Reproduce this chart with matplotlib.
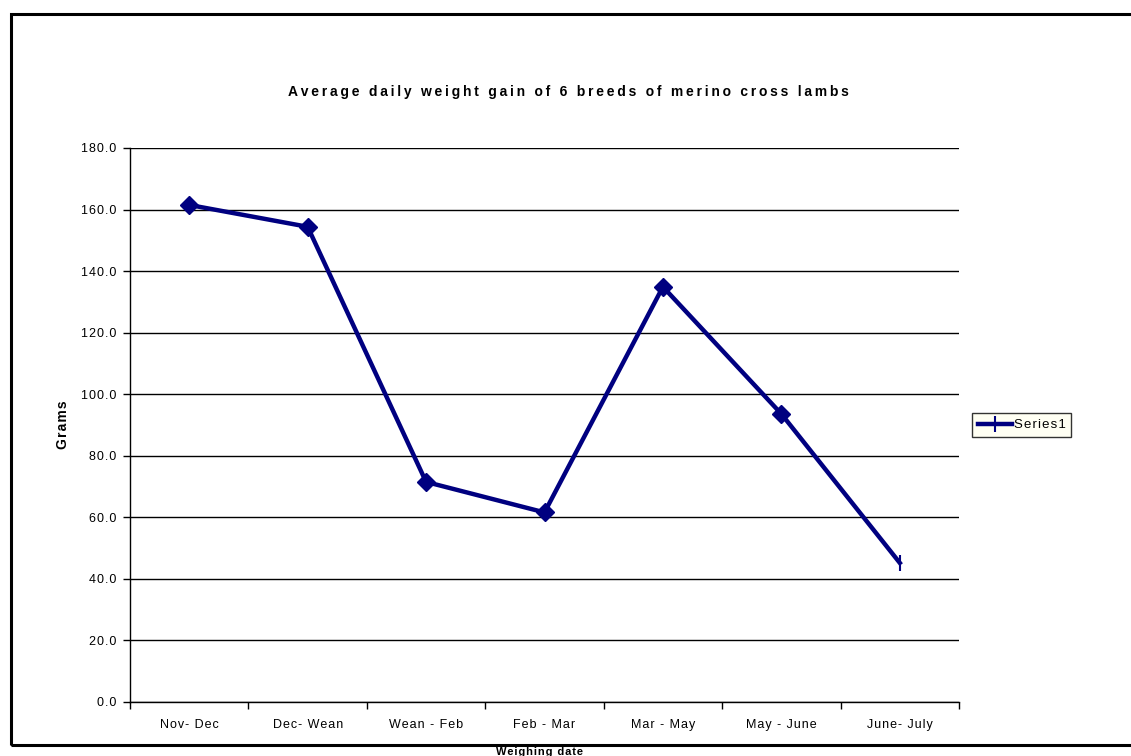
import numpy as np
import matplotlib
matplotlib.use("Agg")
import matplotlib.pyplot as plt
from matplotlib.lines import Line2D
from matplotlib.patches import Rectangle

plt.rcParams['font.family'] = ['Liberation Sans', 'DejaVu Sans']

# --- Data ---
periods = ["Nov- Dec", "Dec- Wean", "Wean - Feb", "Feb - Mar",
           "Mar - May", "May - June", "June- July"]
gain = [161.5, 154.4, 71.5, 61.6, 134.9, 93.6, 45.2]
yticks = np.arange(0, 181, 20)
title = "Average daily weight gain of 6 breeds of merino cross lambs"


def spaced(s, sp="\u200a"):
    # the original chart uses wide letter spacing
    return sp.join(s)


W, H = 1131, 756
fig = plt.figure(figsize=(W / 100, H / 100), dpi=100)

# outer chart frame (runs off the right edge like the original)
fig.patches.append(Rectangle((11 / W, 1 - 745 / H), 1.2, (745 - 14) / H,
                             transform=fig.transFigure, fill=False,
                             edgecolor="black", linewidth=2.2, zorder=0))

ax = fig.add_axes([130 / W, 1 - 702 / H, (959 - 130) / W, (702 - 148) / H])
x = np.arange(len(periods))
navy = "#000080"
ax.plot(x, gain, color=navy, linewidth=3.2, marker="D", markersize=9,
        markevery=list(range(len(gain) - 1)), zorder=3)
ax.plot(x[-1:], gain[-1:], color=navy, marker="|", markersize=11,
        markeredgewidth=1.5, linestyle="none", zorder=3)

ax.set_xlim(-0.5, len(periods) - 0.5)
ax.set_ylim(0, 180)
ax.set_yticks(yticks)
ax.set_yticklabels([spaced(f"{v:.1f}") for v in yticks], fontsize=9)
ax.set_xticks(x)
ax.set_xticklabels([spaced(p) for p in periods], fontsize=9)
ax.set_xticks(np.arange(-0.5, len(periods)), minor=True)
ax.tick_params(axis="x", which="major", length=0, pad=12)
ax.tick_params(axis="x", which="minor", length=5, direction="out", width=1)
ax.tick_params(axis="y", length=5, direction="out", width=1, pad=5)
ax.yaxis.grid(True, color="black", linewidth=1)
ax.set_axisbelow(True)
for s in ("top", "right"):
    ax.spines[s].set_visible(False)
for s in ("left", "bottom"):
    ax.spines[s].set_linewidth(1)

fig.text(63 / W, 1 - 425 / H, spaced("Grams"), fontsize=10,
         fontweight="bold", rotation=90, ha="center", va="center")
fig.text(540 / W, 1 - 755 / H, spaced("Weighing date"), fontsize=8,
         fontweight="bold", ha="center", va="baseline")
fig.text(568 / W, 1 - 92 / H, spaced(title, "\u2009"),
         fontsize=10, fontweight="bold", ha="center", va="center")

handle = Line2D([], [], color=navy, linewidth=3.2, marker="|",
                markersize=11, markeredgewidth=1.5)
leg = fig.legend([handle], [spaced("Series1")], loc="center left",
                 bbox_to_anchor=(972 / W, 1 - 425 / H), fontsize=9.5,
                 frameon=True, fancybox=False, handlelength=2.6,
                 handletextpad=0.1, borderpad=0.45, borderaxespad=0)
leg.get_frame().set_facecolor("#FFFFF0")
leg.get_frame().set_edgecolor("black")
leg.get_frame().set_linewidth(1)

fig.savefig("out.png", dpi=100)
